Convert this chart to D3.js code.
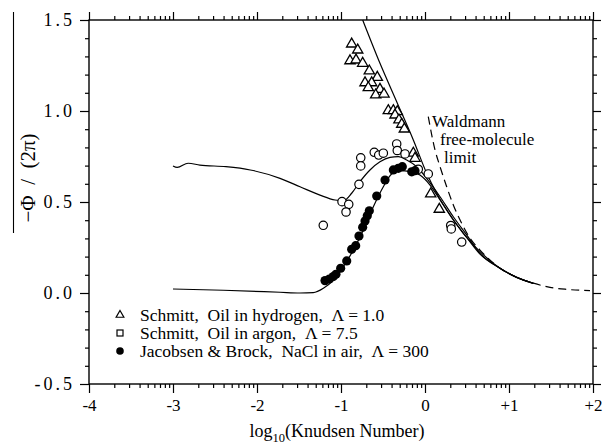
<!DOCTYPE html>
<html><head><meta charset="utf-8">
<script src="https://cdn.jsdelivr.net/npm/d3@7"></script>
<style>
body{margin:0;background:#fff}
svg{display:block}
svg text{font-family:"Liberation Serif","DejaVu Serif",serif !important;fill:#000}
</style>
</head><body>
<svg id="c" width="606" height="444" font-family="Liberation Serif"></svg>
<script>
// ---- tick labels ----
const xTickValues=[-4,-3,-2,-1,0,1,2];
const xTickLabels=["-4","-3","-2","-1","0","+1","+2"];
const yTickValues=[-0.5,0,0.5,1,1.5];
const yTickLabels=["-0.5","0.0","0.5","1.0","1.5"];

// ---- data: Schmitt, oil in hydrogen (triangles) ----
const hydrogenX=[-0.873,-0.801,-0.893,-0.821,-0.742,-0.663,-0.568,-0.714,-0.635,-0.675,-0.536,-0.587,-0.488,-0.437,-0.377,-0.330,-0.357,-0.310,-0.277,-0.246,-0.139,-0.119,0.068,0.170];
const hydrogenY=[1.368,1.335,1.276,1.280,1.262,1.220,1.185,1.155,1.155,1.128,1.119,1.088,1.093,1.002,1.002,0.996,0.978,0.951,0.927,0.901,0.768,0.740,0.544,0.460];
// ---- Schmitt, oil in argon (open circles) ----
const argonX=[-0.765,-0.765,-0.604,-0.551,-0.496,-0.337,-0.330,-0.238,-0.080,0.039,-0.786,-0.988,-0.908,-0.940,-1.211,0.306,0.313,0.437];
const argonY=[0.743,0.698,0.773,0.758,0.768,0.819,0.783,0.764,0.680,0.654,0.597,0.502,0.487,0.445,0.372,0.371,0.352,0.280];
// ---- Jacobsen & Brock, NaCl in air (filled circles) ----
const naclX=[-1.190,-1.139,-1.092,-1.060,-1.004,-0.932,-0.873,-0.825,-0.786,-0.742,-0.714,-0.687,-0.663,-0.575,-0.476,-0.377,-0.318,-0.270,-0.158,-0.119];
const naclY=[0.068,0.077,0.090,0.103,0.136,0.176,0.240,0.260,0.313,0.361,0.396,0.425,0.452,0.533,0.621,0.676,0.685,0.694,0.666,0.672];

// ---- theory curves ----
const curveH2X=[-0.742,-0.536,-0.337,-0.139,0.020,0.139,0.298,0.456,0.655,0.893,1.092,1.29];
const curveH2Y=[1.5,1.262,1.051,0.841,0.658,0.548,0.429,0.328,0.227,0.136,0.086,0.053];
const curveArX=[-3.0,-2.95,-2.82,-2.68,-2.37,-2.08,-1.726,-1.488,-1.25,-1.071,-0.972,-0.873,-0.774,-0.655,-0.536,-0.417,-0.318,-0.218,-0.099,0.020,0.179,0.337,0.496,0.655,0.893,1.092,1.29];
const curveArY=[0.698,0.690,0.713,0.703,0.694,0.676,0.630,0.584,0.538,0.511,0.507,0.548,0.612,0.676,0.721,0.745,0.749,0.731,0.694,0.630,0.529,0.419,0.319,0.218,0.136,0.086,0.053];
const curveNaClX=[-3.0,-2.4,-1.726,-1.488,-1.33,-1.21,-1.09,-0.972,-0.853,-0.734,-0.615,-0.496,-0.397,-0.298,-0.179,-0.060,0.060,0.179,0.337,0.496,0.655,0.893,1.092,1.29];
const curveNaClY=[0.022,0.015,0.004,0.0,0.002,0.026,0.071,0.145,0.236,0.346,0.474,0.584,0.654,0.672,0.667,0.648,0.593,0.511,0.401,0.306,0.214,0.136,0.086,0.053];
// Waldmann free-molecule limit (dashed)
const waldX=[0.039,0.119,0.179,0.258,0.337,0.437,0.536,0.655,0.893,1.092,1.29,1.488,1.687,1.964];
const waldY=[0.969,0.786,0.694,0.584,0.484,0.383,0.301,0.236,0.136,0.086,0.054,0.031,0.020,0.013];

const legendLabels=["Schmitt,  Oil in hydrogen,  \u039B = 1.0","Schmitt,  Oil in argon,  \u039B = 7.5","Jacobsen & Brock,  NaCl in air,  \u039B = 300"];

const FONT='"Liberation Serif","DejaVu Serif",serif';
const svg=d3.select("#c").style("font-family",FONT);
const x=d3.scaleLinear().domain([-4,2]).range([89,593]);
const y=d3.scaleLinear().domain([-0.5,1.5]).range([384,20]);

const minorX=[];
for(let d=-4; d<2; d++) for(let k=2;k<=9;k++) minorX.push(d+Math.log10(k));
const minorY=d3.range(-5,16).filter(i=>i%5!==0).map(i=>i/10);

function styleAxis(g){
  g.attr("font-family",null).style("font-family",FONT);
  g.select(".domain").remove();
  g.selectAll(".tick line").attr("stroke","#000").attr("stroke-width",1.2);
  g.selectAll(".tick text").style("font-family",FONT).attr("font-size",17).attr("fill","#000");
}
const X0=x.range()[0], X1=x.range()[1], Y0=y.range()[0], Y1=y.range()[1];

// bottom
svg.append("g").attr("transform",`translate(0,${Y0})`)
  .call(d3.axisBottom(x).tickValues(xTickValues).tickFormat((d,i)=>xTickLabels[i]).tickSize(9).tickPadding(6)).call(styleAxis);
svg.append("g").attr("transform",`translate(0,${Y0})`)
  .call(d3.axisBottom(x).tickValues(minorX).tickFormat("").tickSize(4)).call(styleAxis);
// top
svg.append("g").attr("transform",`translate(0,${Y1})`)
  .call(d3.axisTop(x).tickValues(xTickValues).tickFormat("").tickSize(8)).call(styleAxis);
svg.append("g").attr("transform",`translate(0,${Y1})`)
  .call(d3.axisTop(x).tickValues(minorX).tickFormat("").tickSize(4)).call(styleAxis);
// left
svg.append("g").attr("transform",`translate(${X0},0)`)
  .call(d3.axisLeft(y).tickValues(yTickValues).tickFormat((d,i)=>yTickLabels[i]).tickSize(9).tickPadding(5)).call(styleAxis)
  .selectAll(".tick text").attr("letter-spacing","3px").attr("font-size",18);
svg.append("g").attr("transform",`translate(${X0},0)`)
  .call(d3.axisLeft(y).tickValues(minorY).tickFormat("").tickSize(4)).call(styleAxis);
// right
svg.append("g").attr("transform",`translate(${X1},0)`)
  .call(d3.axisRight(y).tickValues(yTickValues).tickFormat("").tickSize(8)).call(styleAxis);
svg.append("g").attr("transform",`translate(${X1},0)`)
  .call(d3.axisRight(y).tickValues(minorY).tickFormat("").tickSize(4)).call(styleAxis);
// frame
svg.append("rect").attr("x",X0).attr("y",Y1).attr("width",X1-X0).attr("height",Y0-Y1)
  .attr("fill","none").attr("stroke","#000").attr("stroke-width",1.4);

// curves
const line=d3.line().x(d=>x(d[0])).y(d=>y(d[1])).curve(d3.curveMonotoneX);
function drawCurve(xs,ys,dash){
  svg.append("path").datum(xs.map((v,i)=>[v,ys[i]])).attr("d",line)
    .attr("fill","none").attr("stroke","#000").attr("stroke-width",1.2)
    .attr("stroke-dasharray",dash||null);
}
drawCurve(curveArX,curveArY);
drawCurve(curveNaClX,curveNaClY);
drawCurve(curveH2X,curveH2Y);
drawCurve(waldX,waldY,"8,5");

// markers
const tri=d3.symbol().type(d3.symbolTriangle).size(46);
svg.append("g").selectAll("path").data(hydrogenX.map((v,i)=>[v,hydrogenY[i]])).join("path")
  .attr("d",tri).attr("transform",d=>`translate(${x(d[0])},${y(d[1])})`)
  .attr("fill","#fff").attr("stroke","#000").attr("stroke-width",1.3);
svg.append("g").selectAll("circle").data(argonX.map((v,i)=>[v,argonY[i]])).join("circle")
  .attr("cx",d=>x(d[0])).attr("cy",d=>y(d[1])).attr("r",4.2)
  .attr("fill","#fff").attr("stroke","#000").attr("stroke-width",1.2);
svg.append("g").selectAll("circle").data(naclX.map((v,i)=>[v,naclY[i]])).join("circle")
  .attr("cx",d=>x(d[0])).attr("cy",d=>y(d[1])).attr("r",4.6)
  .attr("fill","#000");

// Waldmann label
const wl=svg.append("text").attr("font-size",17);
wl.append("tspan").attr("x",432).attr("y",127).text("Waldmann");
wl.append("tspan").attr("x",440).attr("y",145).text("free-molecule");
wl.append("tspan").attr("x",444).attr("y",163).text("limit");

// legend
const lg=svg.append("g");
const ly=[315,333,351];
lg.append("path").attr("d",d3.symbol().type(d3.symbolTriangle).size(26)).attr("transform",`translate(120,${ly[0]})`)
  .attr("fill","#fff").attr("stroke","#000").attr("stroke-width",1.2);
lg.append("rect").attr("x",117).attr("y",ly[1]-3).attr("width",6).attr("height",6)
  .attr("fill","#fff").attr("stroke","#000").attr("stroke-width",1.2);
lg.append("circle").attr("cx",120).attr("cy",ly[2]).attr("r",3.8).attr("fill","#000");
legendLabels.forEach((t,i)=>{
  lg.append("text").attr("x",140).attr("y",ly[i]+5.5).attr("font-size",17.5)
    .style("white-space","pre").text(t);
});

// axis titles
const xt=svg.append("text").attr("x",X0+(X1-X0)/2-4).attr("y",437).attr("text-anchor","middle").attr("font-size",18);
xt.append("tspan").text("log");
xt.append("tspan").attr("font-size",12.5).attr("dy",5).text("10");
xt.append("tspan").attr("dy",-5).text("(Knudsen Number)");

svg.append("text").attr("transform","translate(35,178) rotate(-90)").attr("text-anchor","middle")
  .attr("font-size",21).style("white-space","pre").text("\u2212\u03A6  /  (2\u03C0)");
svg.append("line").attr("x1",13.5).attr("x2",13.5).attr("y1",12).attr("y2",233)
  .attr("stroke","#000").attr("stroke-width",1.1);
</script>
</body></html>
